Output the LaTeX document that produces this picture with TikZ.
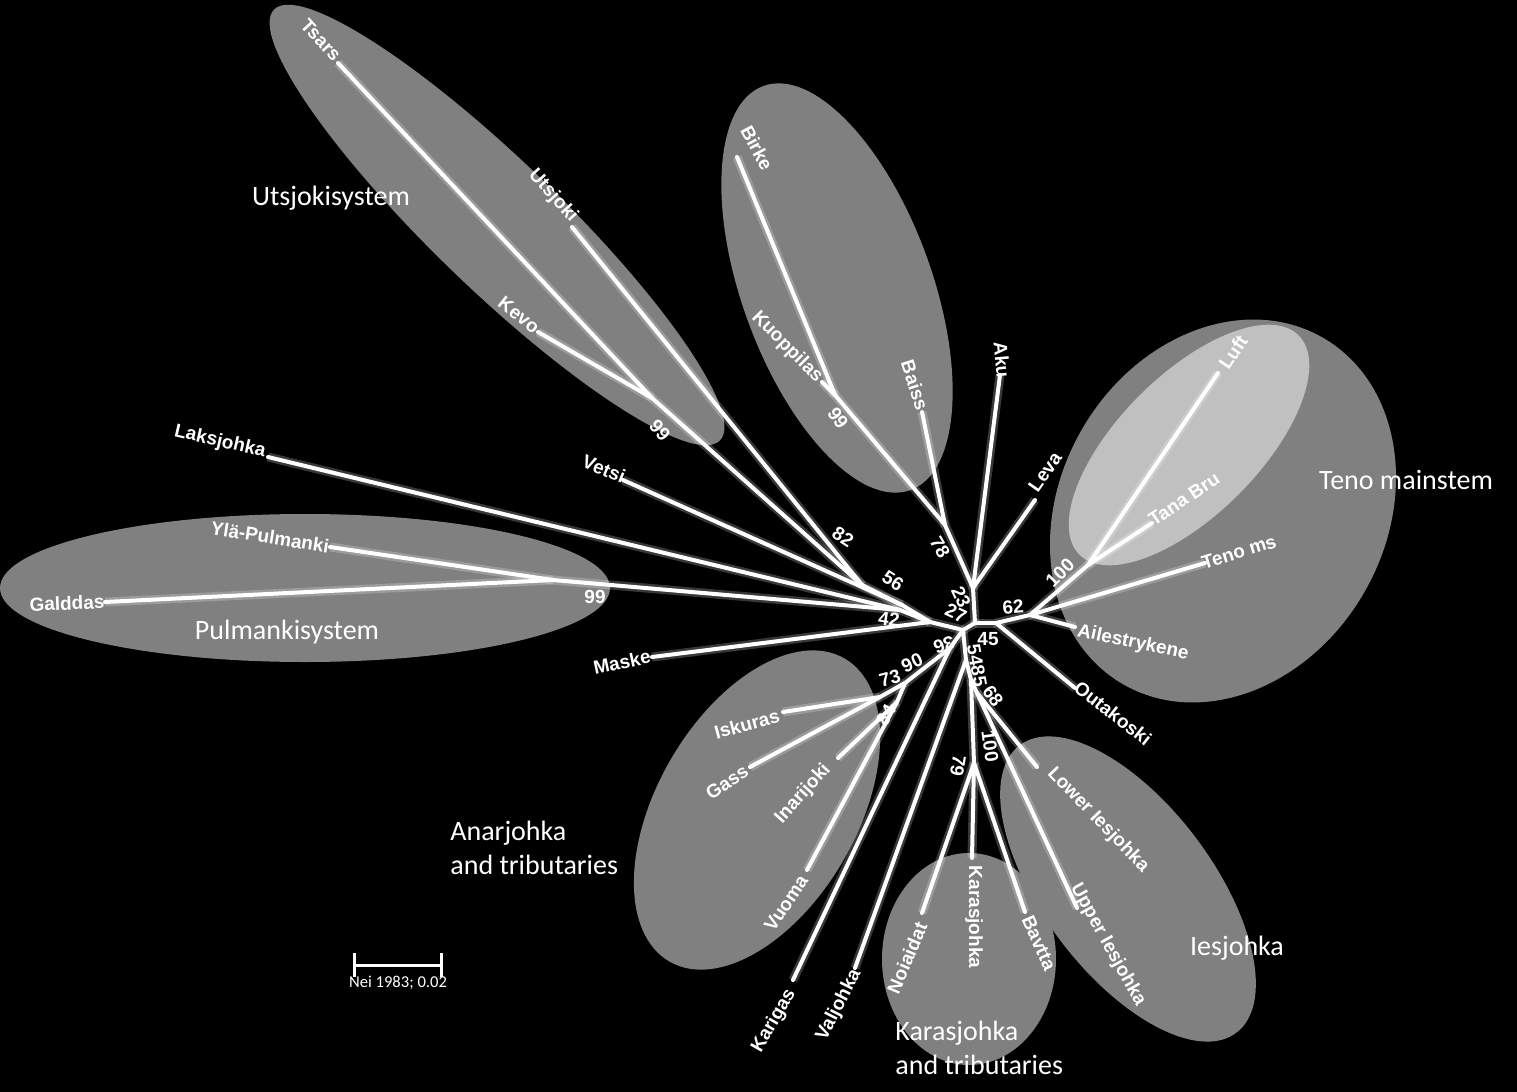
\documentclass[tikz,border=0pt]{standalone}
\usepackage{fontspec}
\setmainfont{Liberation Sans}
\newfontfamily\grpfont{Carlito}
\definecolor{mgray}{RGB}{128,128,128}
\definecolor{lgray}{RGB}{192,192,192}
\tikzset{
  br/.style={draw=white, line width=2pt, line cap=round, line join=round,
             preaction={draw=white, opacity=0.22, line width=4.5pt}},
  lf/.style={text=white, font=\bfseries\fontsize{9.5}{10}\selectfont, inner sep=0pt},
  bs/.style={text=white, font=\bfseries\fontsize{9.5}{10}\selectfont, inner sep=0pt},
  grp/.style={text=white, font=\grpfont\fontsize{14}{17}\selectfont, align=left, inner sep=0pt},
  ell/.style={fill=mgray},
}
\begin{document}
\begin{tikzpicture}[x=0.5pt,y=-0.5pt]
\fill[black] (0,0) rectangle (1517,1092);
\useasboundingbox (0,0) rectangle (1517,1092);
% ellipses
\fill[ell, rotate around={-44:(497,225)}] (497,225) ellipse [x radius=310, y radius=64];
\fill[ell, rotate around={-70:(837,288)}] (837,288) ellipse [x radius=215, y radius=95];
\fill[ell] (305,588) ellipse [x radius=305, y radius=74];
\fill[ell, rotate around={60:(757,810)}] (757,810) ellipse [x radius=175, y radius=100];
\fill[ell] (969,959) ellipse [x radius=87, y radius=106];
\fill[ell, rotate around={-53:(1128,889)}] (1128,889) ellipse [x radius=180, y radius=85];
\fill[ell, rotate around={60:(1223,511)}] (1223,511) ellipse [x radius=200, y radius=163];
\fill[lgray, rotate around={45:(1189,445)}] (1189,445) ellipse [x radius=155, y radius=70];
% leaves
\coordinate (Tsars) at (338,63);
\coordinate (Kevo) at (538,332);
\coordinate (Utsjoki) at (572,227);
\coordinate (Vetsi) at (623,480);
\coordinate (Laksjohka) at (268,457);
\coordinate (Yla) at (330,547);
\coordinate (Galddas) at (105,602);
\coordinate (Maske) at (652,657);
\coordinate (Birke) at (737,157);
\coordinate (Kuoppilas) at (822,382);
\coordinate (Baiss) at (922,412);
\coordinate (Aku) at (1000,375);
\coordinate (Leva) at (1035,500);
\coordinate (Luft) at (1218,373);
\coordinate (TanaBru) at (1152,523);
\coordinate (TenoMs) at (1205,563);
\coordinate (Ailes) at (1075,627);
\coordinate (Outakoski) at (1075,688);
\coordinate (LowerI) at (1037,767);
\coordinate (UpperI) at (1077,908);
\coordinate (Bavtta) at (1025,912);
\coordinate (Karasjohka) at (972,858);
\coordinate (Noiaidat) at (922,913);
\coordinate (Valjohka) at (855,968);
\coordinate (Karigas) at (793,980);
\coordinate (Vuoma) at (807,870);
\coordinate (Inarijoki) at (838,758);
\coordinate (Gass) at (750,767);
\coordinate (Iskuras) at (783,712);
% internal nodes
\coordinate (U99) at (652,398);
\coordinate (U82) at (862,585);
\coordinate (N56) at (902,605);
\coordinate (N42) at (900,610);
\coordinate (NM) at (930,622);
\coordinate (P99) at (553,580);
\coordinate (C0) at (963,630);
\coordinate (C1) at (975,623);
\coordinate (C2) at (996,623);
\coordinate (J23) at (973,588);
\coordinate (N78) at (945,525);
\coordinate (K99) at (835,395);
\coordinate (T62) at (1030,615);
\coordinate (T100) at (1088,565);
\coordinate (N36) at (950,648);
\coordinate (N90) at (905,683);
\coordinate (N73) at (880,697);
\coordinate (N84) at (897,702);
\coordinate (N54) at (966,660);
\coordinate (N85) at (971,680);
\coordinate (N68) at (977,693);
\coordinate (N79) at (974,763);
% branches
\draw[br] (Tsars) -- (U99);
\draw[br] (Kevo) -- (U99);
\draw[br] (U99) -- (U82);
\draw[br] (Utsjoki) -- (U82);
\draw[br] (U82) -- (N56);
\draw[br] (Vetsi) -- (N56);
\draw[br] (N56) -- (NM);
\draw[br] (Laksjohka) -- (N42);
\draw[br] (Galddas) -- (P99);
\draw[br] (Yla) -- (P99);
\draw[br] (P99) -- (N42);
\draw[br] (N42) -- (NM);
\draw[br] (Maske) -- (NM);
\draw[br] (NM) -- (C0);
\draw[br] (C0) -- (C1);
\draw[br] (C1) -- (J23);
\draw[br] (J23) -- (Aku);
\draw[br] (J23) -- (Leva);
\draw[br] (J23) -- (N78);
\draw[br] (N78) -- (Baiss);
\draw[br] (N78) -- (K99);
\draw[br] (K99) -- (Birke);
\draw[br] (K99) -- (Kuoppilas);
\draw[br] (C1) -- (C2);
\draw[br] (C2) -- (Outakoski);
\draw[br] (C2) -- (T62);
\draw[br] (T62) -- (Ailes);
\draw[br] (T62) -- (TenoMs);
\draw[br] (T62) -- (T100);
\draw[br] (T100) -- (Luft);
\draw[br] (T100) -- (TanaBru);
\draw[br] (C0) -- (N36);
\draw[br] (N36) -- (Karigas);
\draw[br] (N36) -- (N90);
\draw[br] (N90) -- (N73);
\draw[br] (N73) -- (Iskuras);
\draw[br] (N73) -- (Gass);
\draw[br] (N90) -- (N84);
\draw[br] (N84) -- (Inarijoki);
\draw[br] (N84) -- (Vuoma);
\draw[br] (C0) -- (N54);
\draw[br] (N54) -- (Valjohka);
\draw[br] (N54) -- (N85);
\draw[br] (N85) -- (N79);
\draw[br] (N85) -- (N68);
\draw[br] (N68) -- (LowerI);
\draw[br] (N68) -- (UpperI);
\draw[br] (N79) -- (Noiaidat);
\draw[br] (N79) -- (Karasjohka);
\draw[br] (N79) -- (Bavtta);
% leaf labels
\node[lf, rotate=-47] (lTsars) at (321,40) {Tsars};
\node[lf, rotate=-48] (lUtsjoki) at (553,196) {Utsjoki};
\node[lf, rotate=-38] (lKevo) at (519,315) {Kevo};
\node[lf, rotate=-62] (lBirke) at (757,148) {Birke};
\node[lf, rotate=-45] (lKuoppilas) at (787,347) {Kuoppilas};
\node[lf, rotate=-72] (lBaiss) at (915,385) {Baiss};
\node[lf, rotate=-85] (lAku) at (1002,360) {Aku};
\node[lf, rotate=55] (lLeva) at (1045,472) {Leva};
\node[lf, rotate=56] (lLuft) at (1233,352) {Luft};
\node[lf, rotate=34] (lTanaBru) at (1184,499) {Tana Bru};
\node[lf, rotate=17] (lTenoMs) at (1239,552) {Teno ms};
\node[lf, rotate=-12] (lAiles) at (1133,643) {Ailestrykene};
\node[lf, rotate=-38] (lOutakoski) at (1113,713) {Outakoski};
\node[lf, rotate=-46] (lLowerI) at (1098,820) {Lower Iesjohka};
\node[lf, rotate=-61] (lUpperI) at (1108,945) {Upper Iesjohka};
\node[lf, rotate=-66] (lBavtta) at (1039,943) {Bavtta};
\node[lf, rotate=-90] (lKarasjohka) at (974,917) {Karasjohka};
\node[lf, rotate=67] (lNoiaidat) at (907,958) {Noiaidat};
\node[lf, rotate=63] (lValjohka) at (839,1005) {Valjohka};
\node[lf, rotate=60] (lKarigas) at (774,1021) {Karigas};
\node[lf, rotate=56] (lVuoma) at (786,903) {Vuoma};
\node[lf, rotate=48] (lInarijoki) at (803,794) {Inarijoki};
\node[lf, rotate=34] (lGass) at (727,782) {Gass};
\node[lf, rotate=15] (lIskuras) at (747,724) {Iskuras};
\node[lf, rotate=12] (lMaske) at (622,662) {Maske};
\node[lf, rotate=-13] (lLaksjohka) at (220,442) {Laksjohka};
\node[lf, rotate=-22] (lVetsi) at (604,469) {Vetsi};
\node[lf, rotate=-9] (lYla) at (270,537) {Ylä-Pulmanki};
\node[lf, rotate=2] (lGalddas) at (67,603) {Galddas};
% bootstrap values
\node[bs, rotate=-50] (b99u) at (660,430) {99};
\node[bs, rotate=-55] (b99k) at (838,418) {99};
\node[bs] (b99p) at (595,597) {99};
\node[bs, rotate=-60] (b78) at (940,547) {78};
\node[bs, rotate=-33] (b82) at (843,537) {82};
\node[bs, rotate=-33] (b56) at (893,581) {56};
\node[bs, rotate=-8] (b42) at (889,619) {42};
\node[bs, rotate=-65] (b23) at (961,597) {23};
\node[bs, rotate=-25] (b27) at (956,613) {27};
\node[bs, rotate=5] (b62) at (1013,607) {62};
\node[bs, rotate=45] (b100t) at (1060,573) {100};
\node[bs] (b45) at (988,639) {45};
\node[bs, rotate=200] (b36) at (944,645) {36};
\node[bs, rotate=15] (b73) at (890,678) {73};
\node[bs, rotate=25] (b90) at (912,663) {90};
\node[bs, rotate=60] (b84) at (886,715) {84};
\node[bs, rotate=-80] (b54) at (975,655) {54};
\node[bs, rotate=-80] (b85) at (979,676) {85};
\node[bs, rotate=-55] (b68) at (993,696) {68};
\node[bs, rotate=-82] (b100i) at (990,746) {100};
\node[bs, rotate=-100] (b79) at (958,766) {79};
% group labels
\node[grp] (gU) at (331,198) {Utsjokisystem};
\node[grp] (gT) at (1406,480) {Teno mainstem};
\node[grp] (gP) at (287,632) {Pulmankisystem};
\node[grp, anchor=west] (gA) at (450,848) {Anarjohka\\and tributaries};
\node[grp] (gI) at (1237,948) {Iesjohka};
\node[grp, anchor=west] (gK) at (895,1048) {Karasjohka\\and tributaries};
% scale bar
\coordinate (sbL) at (354,965);
\coordinate (sbR) at (441,965);
\draw[white, line width=1.5pt] (sbL) -- (sbR);
\draw[white, line width=1.5pt] ([yshift=-6]sbL) -- ([yshift=6]sbL);
\draw[white, line width=1.5pt] ([yshift=-6]sbR) -- ([yshift=6]sbR);
\node[text=white, font=\grpfont\fontsize{8.3}{10}\selectfont, inner sep=0pt] (sbT) at (398,983) {Nei 1983; 0.02};
\end{tikzpicture}
\end{document}
